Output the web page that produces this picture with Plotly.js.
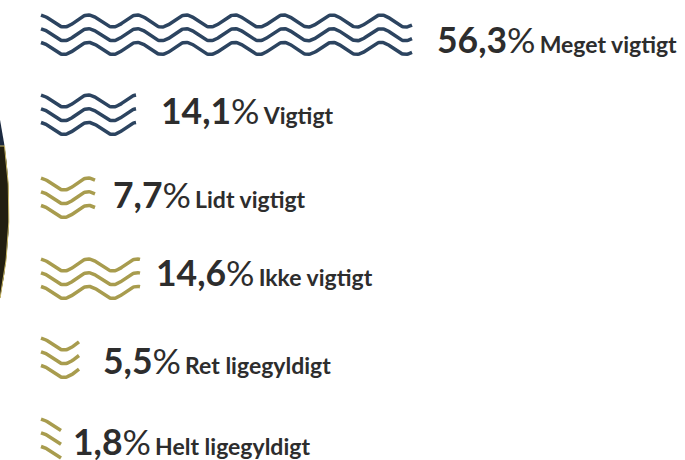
<!DOCTYPE html>
<html><head><meta charset="utf-8">
<script src="https://cdn.plot.ly/plotly-3.0.1.min.js"></script>
<style>html,body{margin:0;padding:0;background:#fff;overflow:hidden}#c{width:685px;height:460px}</style>
</head><body><div id="c"></div>
<script>
const categories = ["Meget vigtigt","Vigtigt","Lidt vigtigt","Ikke vigtigt","Ret ligegyldigt","Helt ligegyldigt"];
const percentLabels = ["56,3","14,1","7,7","14,6","5,5","1,8"];
const percentValues = [56.3,14.1,7.7,14.6,5.5,1.8];
// Drawn wave length (in percentage units of the x axis)
const waveLengths = [56.3,14.4,8.2,15.0,5.8,3.0];
const waveColors = ["#2c4460","#2c4460","#a89c4e","#a89c4e","#a89c4e","#a89c4e"];

const W=685,H=460,left=41,pxPerUnit=6.59;
const rowTops=[15,95,178,259,338,419];
const labelGaps=[24,24,17,15,23,11];
const baselines=[53,124,208,286,374,455];
const period=48.8,amp=6,gap=13.7;
const xFromPx=p=>(p-left)/pxPerUnit;
const px2=(x,y)=>`${x/W},${1-y/H}`;

const traces=categories.map((c,i)=>{
  const xs=[],ys=[];
  for(let k=0;k<3;k++){
    const n=Math.round(waveLengths[i]*pxPerUnit);
    for(let s=0;s<=n;s++){
      xs.push(s/pxPerUnit);
      ys.push(rowTops[i]+amp+k*gap-amp*Math.cos(2*Math.PI*(s+1.5)/period));
    }
    xs.push(null);ys.push(null);
  }
  return {type:'scatter',mode:'lines',name:c,x:xs,y:ys,hoverinfo:'skip',
    line:{color:waveColors[i],width:3.5,shape:'linear'}};
});

const annotations=categories.map((c,i)=>({
  xref:'x',yref:'y',x:waveLengths[i]+labelGaps[i]/pxPerUnit,y:baselines[i]-14,
  xanchor:'left',yanchor:'middle',showarrow:false,align:'left',borderpad:0,
  text:`<b>${percentLabels[i]}</b>%<span style="font-size:16px"> </span><b><span style="font-size:23px">${c}</span></b>`,
  font:{family:'Lato, sans-serif',size:35.5,color:'#2d2d2d'}
}));

Plotly.newPlot('c',traces,{
  width:W,height:H,margin:{l:0,r:0,t:0,b:0},paper_bgcolor:'#fff',plot_bgcolor:'#fff',showlegend:false,
  xaxis:{range:[xFromPx(0),xFromPx(W)],visible:false,fixedrange:true},
  yaxis:{range:[H,0],visible:false,fixedrange:true},
  annotations,
  shapes:[
   {type:'circle',xref:'paper',yref:'paper',layer:'below',
    x0:(9-890)/W,x1:9/W,y0:1-(209+445)/H,y1:1-(209-445)/H,
    fillcolor:'#1c2a40',line:{width:0}},
   {type:'path',xref:'paper',yref:'paper',layer:'below',
    path:`M ${px2(4.5,146)} Q ${px2(15.3,222)} ${px2(0.1,298)} L ${px2(-6,298)} L ${px2(-6,146)} Z`,
    fillcolor:'#221e10',line:{color:'#c9b765',width:1}}
  ]
},{displayModeBar:false,staticPlot:true});
</script></body></html>
